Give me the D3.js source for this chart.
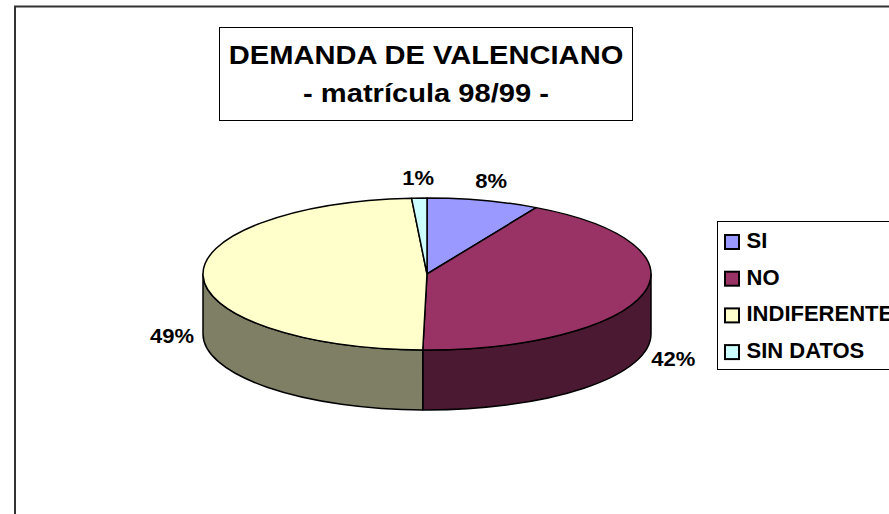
<!DOCTYPE html>
<html>
<head>
<meta charset="utf-8">
<script src="https://cdn.jsdelivr.net/npm/d3@7"></script>
<style>
  body { margin: 0; background: #fff; }
  svg { display: block; font-family: "Liberation Sans", Arial, sans-serif; font-weight: bold; }
</style>
</head>
<body>
<div id="chart"></div>
<script>
// data
const categories = ["SI", "NO", "INDIFERENTE", "SIN DATOS"];
const shares = [8.1, 42.2, 48.6, 1.1];
const topColors = ["#9999FF", "#993366", "#FFFFCC", "#CCFFFF"];
const sideColors = ["#4C4C80", "#4C1933", "#7F7F66", "#668080"];
const titleLines = ["DEMANDA DE VALENCIANO", "- matrícula 98/99 -"];

//------------------------1. PREPARATION------------------------//
const width = 889;
const height = 514;

const svg = d3.select("#chart").append("svg")
  .attr("width", width)
  .attr("height", height);

// chart area border (runs off the picture right and bottom)
svg.append("rect")
  .attr("x", 15).attr("y", 6.5)
  .attr("width", 900).attr("height", 520)
  .attr("fill", "#fff")
  .attr("stroke", "#333")
  .attr("stroke-width", 2);

//----------------------------TITLE-----------------------------//
svg.append("rect")
  .attr("x", 219.5).attr("y", 27.5)
  .attr("width", 413).attr("height", 93)
  .attr("fill", "#fff")
  .attr("stroke", "#000")
  .attr("stroke-width", 1);

const title = svg.append("g")
  .attr("transform", "translate(426,0)");

title.selectAll("text")
  .data(titleLines)
  .enter()
  .append("text")
  .attr("transform", (d, i) => "translate(0," + (64 + i * 38) + ") scale(1.12,1)")
  .attr("text-anchor", "middle")
  .style("font-size", "26px")
  .text(d => d);

//-----------------------------PIE------------------------------//
const cx = 427, cy = 274, rx = 224, ry = 76, depth = 60;

const pie = d3.pie().sort(null).startAngle(0).endAngle(2 * Math.PI);
const arcs = pie(shares);
const total = d3.sum(shares);

const pt = (a, y0) => [cx + rx * Math.sin(a), y0 - ry * Math.cos(a)];

function topPath(d) {
  const p0 = pt(d.startAngle, cy), p1 = pt(d.endAngle, cy);
  const large = (d.endAngle - d.startAngle) > Math.PI ? 1 : 0;
  return "M" + cx + "," + cy + "L" + p0 + "A" + rx + "," + ry + " 0 " + large + " 1 " + p1 + "Z";
}

function sidePath(d) {
  const s = Math.max(d.startAngle, Math.PI / 2);
  const e = Math.min(d.endAngle, 3 * Math.PI / 2);
  if (s >= e) return null;
  const a = pt(s, cy), b = pt(e, cy), b2 = pt(e, cy + depth), a2 = pt(s, cy + depth);
  return "M" + a + "A" + rx + "," + ry + " 0 0 1 " + b +
    "L" + b2 + "A" + rx + "," + ry + " 0 0 0 " + a2 + "Z";
}

const pieG = svg.append("g");

pieG.selectAll("path.side")
  .data(arcs.filter(d => sidePath(d) !== null))
  .enter()
  .append("path")
  .attr("class", "side")
  .attr("d", sidePath)
  .attr("fill", d => sideColors[d.index])
  .attr("stroke", "#000")
  .attr("stroke-width", 1.5)
  .attr("stroke-linejoin", "round");

pieG.selectAll("path.top")
  .data(arcs)
  .enter()
  .append("path")
  .attr("class", "top")
  .attr("d", topPath)
  .attr("fill", d => topColors[d.index])
  .attr("stroke", "#000")
  .attr("stroke-width", 1.5)
  .attr("stroke-linejoin", "round");

// percentage labels
pieG.selectAll("text")
  .data(arcs)
  .enter()
  .append("text")
  .attr("transform", d => {
    const mid = (d.startAngle + d.endAngle) / 2;
    const front = Math.cos(mid) < 0.05;
    const x = cx + (rx + 31) * Math.sin(mid);
    const y = cy - (ry + 20) * Math.cos(mid) + (front ? depth : 0) + 7;
    return "translate(" + x + "," + y + ") scale(1.1,1)";
  })
  .attr("text-anchor", "middle")
  .style("font-size", "20px")
  .text(d => Math.round(d.data / total * 100) + "%");

//----------------------------LEGEND----------------------------//
svg.append("rect")
  .attr("x", 717.5).attr("y", 221.5)
  .attr("width", 200).attr("height", 148)
  .attr("fill", "#fff")
  .attr("stroke", "#000")
  .attr("stroke-width", 1);

const items = svg.selectAll("g.legend")
  .data(categories)
  .enter()
  .append("g")
  .attr("class", "legend")
  .attr("transform", (d, i) => "translate(725," + (248 + i * 36.7) + ")");

items.append("rect")
  .attr("x", 0).attr("y", -13)
  .attr("width", 14).attr("height", 14)
  .attr("fill", (d, i) => topColors[i])
  .attr("stroke", "#000")
  .attr("stroke-width", 2);

// the reference's legend runs past the right edge, so the last letter is clipped there too
items.append("text")
  .attr("x", 21.5)
  .attr("y", 0)
  .style("font-size", "22px")
  .text(d => d);
</script>
</body>
</html>
